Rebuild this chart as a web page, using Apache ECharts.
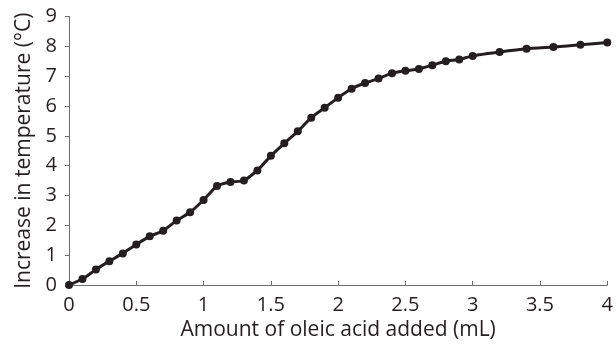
<!DOCTYPE html>
<html>
<head>
<meta charset="utf-8">
<script src="https://cdn.jsdelivr.net/npm/echarts@6/dist/echarts.min.js"></script>
<style>
  html, body { margin: 0; padding: 0; background: #fff; }
  #chart { width: 616px; height: 346px; }
</style>
</head>
<body>
<div id="chart"></div>
<script>
// Volume of oleic acid added (mL)
const volumes = [0, 0.1, 0.2, 0.3, 0.4, 0.5, 0.6, 0.7, 0.8, 0.9, 1.0,
  1.1, 1.2, 1.3, 1.4, 1.5, 1.6, 1.7, 1.8, 1.9, 2.0,
  2.1, 2.2, 2.3, 2.4, 2.5, 2.6, 2.7, 2.8, 2.9, 3.0,
  3.2, 3.4, 3.6, 3.8, 4.0];
// Temperature rise (°C)
const tempRise = [0, 0.2, 0.52, 0.8, 1.06, 1.36, 1.63, 1.82, 2.16, 2.44, 2.85,
  3.32, 3.45, 3.5, 3.84, 4.33, 4.75, 5.15, 5.61, 5.94, 6.28,
  6.58, 6.77, 6.92, 7.1, 7.18, 7.24, 7.37, 7.5, 7.56, 7.68,
  7.81, 7.92, 7.98, 8.05, 8.13];

const ink = '#231f20';
const axisGrey = '#6d6e71';
const font = '"Open Sans", "Noto Sans", sans-serif';

const chart = echarts.init(document.getElementById('chart'));
chart.setOption({
  animation: false,
  grid: { left: 69, right: 8, top: 16.5, bottom: 56 },
  xAxis: {
    type: 'value', min: 0, max: 4, interval: 0.5,
    name: 'Amount of oleic acid added (mL)',
    nameLocation: 'middle', nameGap: 35,
    nameTextStyle: { color: ink, fontSize: 21, fontFamily: font },
    axisLine: { lineStyle: { color: axisGrey, width: 1 } },
    axisTick: { show: true, inside: true, length: 4, lineStyle: { color: axisGrey } },
    axisLabel: { color: ink, fontSize: 20, fontFamily: font, margin: 10 },
    splitLine: { show: false }
  },
  yAxis: {
    type: 'value', min: 0, max: 9, interval: 1,
    name: 'Increase in temperature (°C)',
    nameLocation: 'middle', nameGap: 32,
    nameTextStyle: { color: ink, fontSize: 21, fontFamily: font },
    axisLine: { show: true, lineStyle: { color: axisGrey, width: 1 } },
    axisTick: { show: true, length: 4, lineStyle: { color: axisGrey } },
    axisLabel: { color: ink, fontSize: 20, fontFamily: font, margin: 12 },
    splitLine: { show: false }
  },
  series: [{
    type: 'line',
    data: volumes.map((v, i) => [v, tempRise[i]]),
    smooth: 0.15,
    symbol: 'circle', symbolSize: 8,
    lineStyle: { color: ink, width: 3 },
    itemStyle: { color: ink }
  }]
});
</script>
</body>
</html>
